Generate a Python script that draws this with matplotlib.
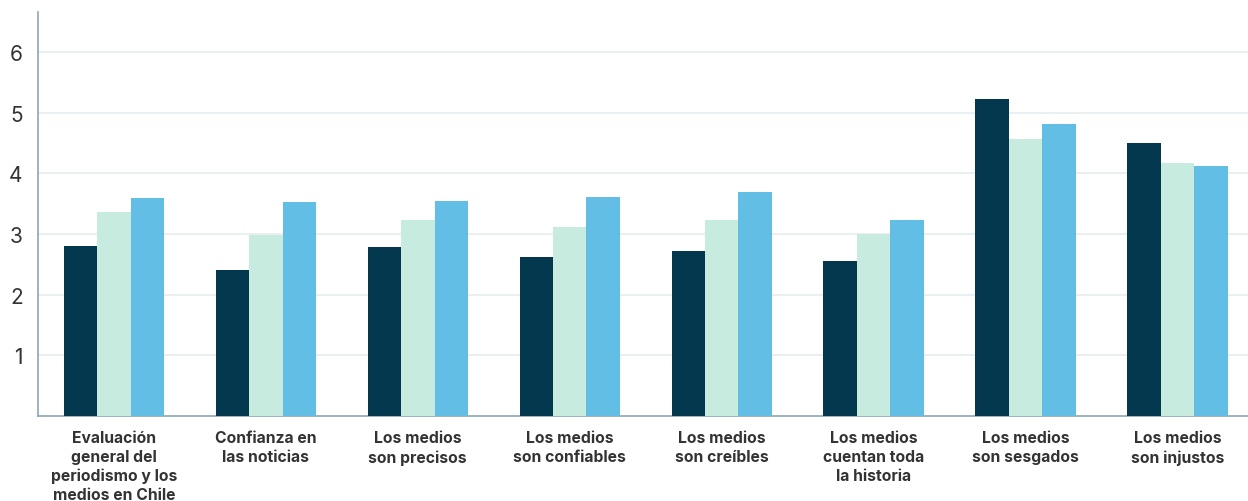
import matplotlib.pyplot as plt
import numpy as np

plt.rcParams['font.family'] = ['Inter', 'DejaVu Sans']

# categories and values
categories = ['Evaluación\ngeneral del\nperiodismo y los\nmedios en Chile',
              'Confianza en\nlas noticias',
              'Los medios\nson precisos',
              'Los medios\nson confiables',
              'Los medios\nson creíbles',
              'Los medios\ncuentan toda\nla historia',
              'Los medios\nson sesgados',
              'Los medios\nson injustos']
serie_a = [2.80, 2.41, 2.78, 2.62, 2.73, 2.55, 5.22, 4.50]
serie_b = [3.36, 2.98, 3.23, 3.11, 3.23, 3.00, 4.56, 4.17]
serie_c = [3.59, 3.53, 3.54, 3.62, 3.69, 3.23, 4.81, 4.12]
y_ticks = [1, 2, 3, 4, 5, 6]

colors = ['#02374E', '#C8EBDF', '#63BEE5']

fig = plt.figure(figsize=(12.48, 5.02), dpi=100)
# axes runs a little past the right edge, like the original
ax = fig.add_axes([0.0304, 0.169, 0.974, 0.805])

x = np.arange(len(categories))
w = 0.22
for i, (vals, c) in enumerate(zip([serie_a, serie_b, serie_c], colors)):
    ax.bar(x + (i - 1) * w, vals, width=w, color=c, zorder=3)

ax.set_xlim(-0.5, len(categories) - 0.5)
ax.set_ylim(0, 6.66)
ax.set_yticks(y_ticks)
ax.set_yticklabels([str(t) for t in y_ticks], fontsize=15, color='#333333')
ax.set_xticks(x)
ax.set_xticklabels(categories, fontsize=11.3, fontweight='bold', color='#333333', linespacing=1.32)
ax.tick_params(axis='y', length=0, pad=11)
ax.tick_params(axis='x', length=0, pad=10)
ax.grid(axis='y', color='#E6EEF0', linewidth=1.2, zorder=0)

for s in ['top', 'right']:
    ax.spines[s].set_visible(False)
for s in ['left', 'bottom']:
    ax.spines[s].set_color('#8FA5B5')
    ax.spines[s].set_linewidth(1.2)

fig.savefig('out.png', dpi=100)
